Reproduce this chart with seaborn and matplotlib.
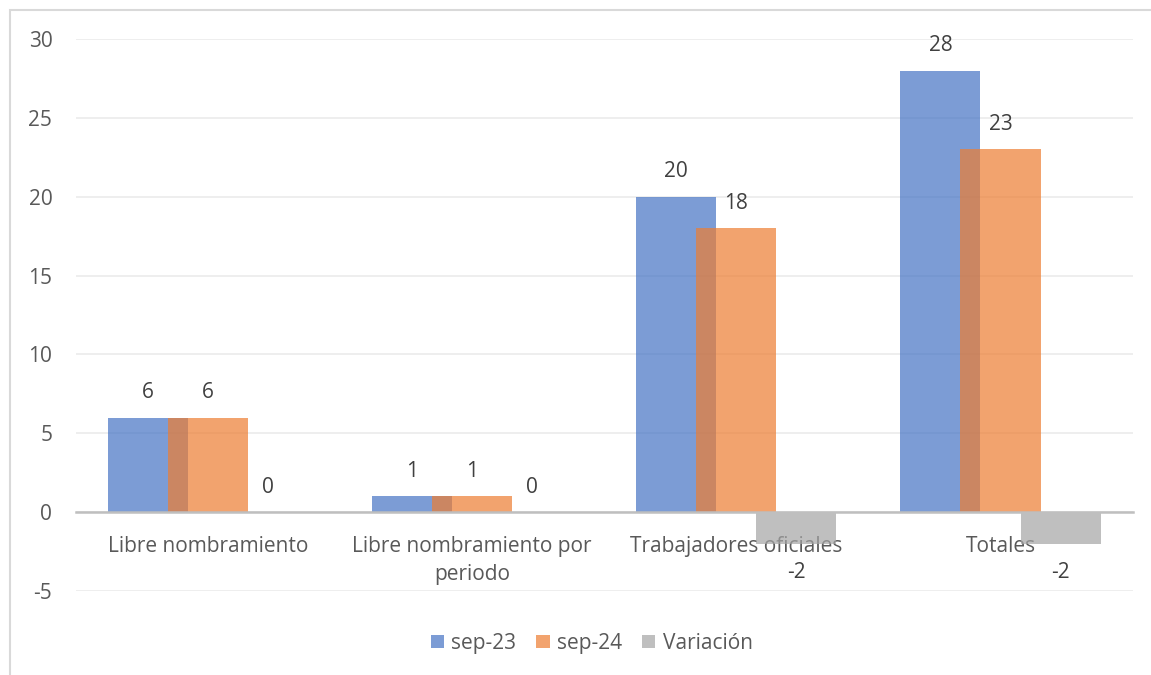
import numpy as np
import pandas as pd
import matplotlib.pyplot as plt
from matplotlib.patches import Patch, Rectangle
import seaborn as sns

# data
categorias = ['Libre nombramiento', 'Libre nombramiento por\nperiodo',
              'Trabajadores oficiales', 'Totales']
sep23 = [6, 1, 20, 28]
sep24 = [6, 1, 18, 23]
variacion = [0, 0, -2, -2]
series = ['sep-23', 'sep-24', 'Variación']
colores = ['#4472C4', '#ED7D31', '#A5A5A5']

df = pd.DataFrame({
    'categoria': categorias * 3,
    'serie': np.repeat(series, len(categorias)),
    'valor': sep23 + sep24 + variacion,
})

sns.set_theme(style='white')
plt.rcParams['font.family'] = ['Open Sans', 'DejaVu Sans']
plt.rcParams['axes.unicode_minus'] = False

fig = plt.figure(figsize=(11.51, 6.75), dpi=100)
ax = fig.add_axes([0.066, 0.1244, 0.918, 0.8178])

sns.barplot(data=df, x='categoria', y='valor', hue='serie', palette=colores,
            width=0.682, alpha=0.7, saturation=1, legend=False, ax=ax)

# widen bars so neighbouring series overlap like the original
bar_w = 0.303
for cont in ax.containers:
    for bar in cont:
        c = bar.get_x() + bar.get_width() / 2
        bar.set_width(bar_w)
        bar.set_x(c - bar_w / 2)
        bar.set_edgecolor('none')

# data labels
for cont in ax.containers:
    for bar in cont:
        v = bar.get_height()
        x = bar.get_x() + bar.get_width() / 2
        off = 18 if v >= 0 else -21
        ax.annotate(f'{v:.0f}', (x, v), xytext=(0, off), textcoords='offset points',
                    ha='center', va='center', fontsize=15, color='#404040')

ax.set_ylim(-5, 30)
ax.set_xlim(-0.5, 3.5)
ax.set_yticks(range(-5, 31, 5))
ax.yaxis.grid(True, color='#EBEBEB', linewidth=1.2)
ax.set_axisbelow(True)
ax.set_xlabel('')
ax.set_ylabel('')

for s in ['left', 'top', 'right']:
    ax.spines[s].set_visible(False)
ax.spines['bottom'].set_position(('data', 0))
ax.spines['bottom'].set_color('#BFBFBF')
ax.spines['bottom'].set_linewidth(1.8)
ax.spines['bottom'].set_zorder(3)

ax.tick_params(axis='y', length=0, pad=17, labelsize=15, labelcolor='#595959')
ax.tick_params(axis='x', length=0, pad=17, labelsize=15, labelcolor='#595959')
for lbl in ax.get_xticklabels():
    lbl.set_multialignment('center')
    lbl.set_linespacing(1.45)

handles = [Patch(facecolor=c, alpha=0.7, edgecolor='none') for c in colores]
fig.legend(handles, series, loc='center', bbox_to_anchor=(0.514, 0.047), ncol=3,
           frameon=False, fontsize=15, labelcolor='#595959', handlelength=0.65,
           handleheight=0.65, handletextpad=0.35, columnspacing=0.95)

# chart area border
fig.patches.append(Rectangle((10 / 1151, -0.05), 1.2, 1.05 - 10 / 675,
                             transform=fig.transFigure, fill=False,
                             edgecolor='#D9D9D9', linewidth=1.5))

plt.savefig('out.png', dpi=100)
